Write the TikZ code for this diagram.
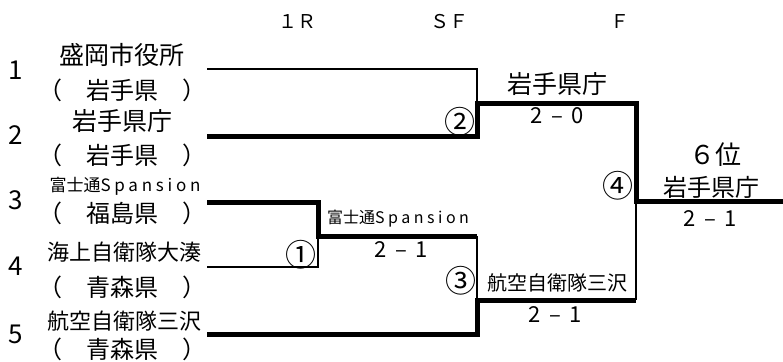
\documentclass[tikz,border=0pt]{standalone}
\usepackage{fontspec}
\setmainfont{Noto Sans CJK JP}
\newcommand{\matchscore}[2]{#1\hspace{0.4em}–\hspace{0.4em}#2}
\tikzset{
    lose/.style={line width=2.5pt},
    win/.style={line width=5pt},
    fs/.style={font=\fontsize{#1}{#1}\selectfont, inner sep=0pt},
}

\begin{document}
\begin{tikzpicture}[x=1pt, y=-1pt]
\useasboundingbox (0,0) rectangle (783,361);
% rounds
\node[fs=19] (r1) at (297,22) {１Ｒ};
\node[fs=19] (r2) at (449,22) {ＳＦ};
\node[fs=19] (r3) at (620,22) {Ｆ};
% entries
\node[fs=26] (n1) at (16,70) {1};
\node[fs=26] (n2) at (16,135) {2};
\node[fs=26] (n3) at (16,200) {3};
\node[fs=26] (n4) at (16,266) {4};
\node[fs=26] (n5) at (16,334) {5};
\node[fs=25] (t1) at (122,55) {盛岡市役所};
\node[fs=24] (t1p) at (122,90) {（　岩手県　）};
\node[fs=25] (t2) at (122,121) {岩手県庁};
\node[fs=24] (t2p) at (122,155) {（　岩手県　）};
\node[fs=17] (t3) at (125,186) {富士通\addfontfeature{LetterSpace=22}Spansion};
\node[fs=24] (t3p) at (122,213) {（　福島県　）};
\node[fs=22] (t4) at (124,252) {海上自衛隊大湊};
\node[fs=24] (t4p) at (122,287) {（　青森県　）};
\node[fs=22] (t5) at (124,321) {航空自衛隊三沢};
\node[fs=24] (t5p) at (122,349) {（　青森県　）};
% bracket
\coordinate (p1) at (207,69);
\coordinate (p2) at (207,136);
\coordinate (p3) at (207,202);
\coordinate (p4) at (207,267);
\coordinate (p5) at (207,334);
\coordinate (m1) at (318,236);
\coordinate (m2) at (477,103);
\coordinate (m3) at (477,300);
\coordinate (m4) at (636,201);
\coordinate (j1) at (477,236);
\coordinate (j3) at (636,300);
\coordinate (champ) at (783,201);
\draw[lose] (p1) -| (m2);
\draw[lose] (p4) -| (m1);
\draw[lose] (j1) -- (m3);
\draw[lose] (j3) -- (m4);
\draw[win] (p2) -| (m2) -| (m4) -- (champ);
\draw[win] (p3) -| (m1) -- (j1);
\draw[win] (p5) -| (m3) -- (j3);
% matches
\node[fs=31] (c1) at (301,255) {①};
\node[fs=31] (c2) at (460,122) {②};
\node[fs=31] (c3) at (461,281) {③};
\node[fs=31] (c4) at (618,186) {④};
\node[fs=16] (w1) at (398,219) {富士通\addfontfeature{LetterSpace=22}Spansion};
\node[fs=22] (s1) at (401,250) {\matchscore{2}{1}};
\node[fs=25] (w2) at (557,84) {岩手県庁};
\node[fs=22] (s2) at (557,116) {\matchscore{2}{0}};
\node[fs=20] (w3) at (557,283) {航空自衛隊三沢};
\node[fs=22] (s3) at (555,315) {\matchscore{2}{1}};
\node[fs=26] (rank) at (715,155) {６位};
\node[fs=24] (w4) at (711,187) {岩手県庁};
\node[fs=22] (s4) at (710,219) {\matchscore{2}{1}};
\end{tikzpicture}
\end{document}
